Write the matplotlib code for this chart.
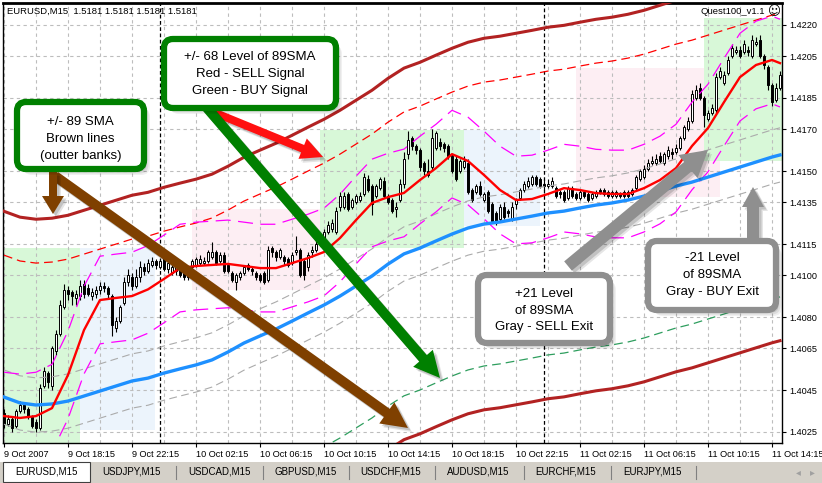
import matplotlib.pyplot as plt
from matplotlib.patches import FancyBboxPatch, FancyArrow, Rectangle

plt.rcParams['font.family'] = ['Liberation Sans', 'DejaVu Sans']

BASE = 1.4
PIP = 0.0001

# EURUSD M15 candles, pips above 1.4000, one entry per bar (9 Oct 14:15 onwards)
opens = [34, 29, 31, 28, 35, 38, 36, 32, 30, 27, 47, 53, 47, 64, 72, 85, 93, 92, 89, 90,
         96, 94, 90, 91, 93, 95, 94, 90, 75, 78, 87, 97, 99, 95, 99, 104, 102, 105, 107, 104,
         108, 103, 101, 102, 104, 101, 99, 104, 105, 106, 106, 107, 109, 111, 107, 110, 105, 101, 97, 99,
         101, 105, 103, 101, 100, 101, 98, 113, 111, 109, 109, 108, 106, 111, 112, 107, 104, 111, 112, 115,
         116, 121, 122, 121, 133, 133, 139, 133, 135, 136, 139, 146, 143, 138, 142, 145, 138, 136, 132, 136,
         144, 158, 166, 162, 160, 154, 150, 152, 161, 164, 163, 162, 157, 156, 150, 152, 154, 141, 140, 143,
         136, 140, 134, 130, 127, 133, 131, 127, 134, 137, 141, 143, 144, 147, 146, 144, 143, 143, 142, 140,
         140, 137, 142, 139, 137, 140, 139, 137, 138, 141, 141, 140, 138, 138, 139, 140, 140, 139, 142, 146,
         147, 151, 154, 154, 157, 154, 157, 159, 159, 161, 166, 170, 174, 185, 190, 185, 175, 178, 179, 195,
         192, 197, 205, 207, 208, 207, 208, 205, 211, 213, 205, 200, 191, 184, 190]
closes = [29, 31, 27, 35, 38, 36, 32, 28, 27, 46, 54, 49, 65, 72, 86, 93, 91, 90, 91, 95,
          91, 91, 92, 93, 95, 94, 91, 76, 78, 85, 97, 100, 95, 99, 104, 102, 106, 107, 105, 107,
          103, 106, 104, 104, 100, 99, 102, 107, 108, 108, 107, 111, 111, 106, 110, 102, 102, 98, 100, 101,
          104, 103, 102, 99, 98, 97, 112, 111, 109, 112, 107, 105, 110, 112, 100, 100, 110, 112, 115, 118,
          121, 124, 125, 131, 138, 138, 132, 136, 138, 138, 147, 141, 134, 143, 146, 138, 135, 131, 133, 144,
          156, 165, 162, 160, 152, 150, 148, 166, 168, 162, 161, 157, 150, 146, 155, 155, 140, 136, 143, 139,
          139, 131, 126, 125, 133, 128, 130, 133, 136, 141, 144, 145, 147, 144, 143, 143, 144, 145, 138, 139,
          136, 142, 138, 137, 140, 138, 136, 139, 140, 140, 139, 138, 140, 140, 138, 138, 138, 141, 147, 150,
          151, 154, 155, 156, 155, 158, 160, 158, 161, 166, 171, 174, 187, 189, 185, 177, 178, 180, 195, 198,
          196, 203, 209, 208, 205, 211, 207, 213, 212, 205, 201, 191, 183, 190, 196]
highs = [36, 33, 32, 36, 40, 39, 37, 33, 31, 48, 56, 54, 66, 74, 88, 96, 95, 93, 93, 98,
         98, 96, 94, 95, 97, 97, 95, 91, 80, 86, 99, 103, 101, 103, 107, 106, 108, 109, 108, 108,
         109, 107, 105, 105, 105, 102, 103, 108, 109, 110, 109, 112, 116, 112, 111, 111, 106, 102, 101, 102,
         105, 106, 104, 102, 101, 102, 114, 114, 112, 113, 110, 109, 111, 119, 113, 108, 111, 114, 117, 119,
         122, 126, 127, 133, 140, 140, 140, 137, 139, 140, 149, 148, 144, 144, 147, 147, 139, 137, 135, 146,
         159, 169, 167, 163, 161, 155, 156, 170, 169, 166, 164, 163, 158, 157, 156, 157, 156, 142, 144, 145,
         140, 141, 135, 131, 134, 135, 132, 135, 137, 142, 145, 147, 148, 148, 147, 146, 146, 147, 143, 141,
         141, 143, 143, 140, 141, 141, 140, 140, 141, 142, 142, 141, 141, 141, 140, 141, 141, 142, 148, 151,
         153, 156, 157, 158, 159, 159, 162, 161, 163, 167, 172, 176, 189, 191, 192, 186, 179, 182, 197, 200,
         198, 205, 211, 210, 210, 213, 210, 215, 214, 215, 206, 201, 192, 192, 198]
lows = [27, 28, 25, 27, 34, 34, 31, 27, 25, 26, 46, 46, 45, 62, 71, 84, 88, 86, 86, 88,
        89, 90, 88, 89, 91, 92, 89, 71, 73, 77, 86, 95, 93, 94, 97, 100, 101, 104, 103, 103,
        102, 101, 100, 100, 99, 98, 98, 103, 104, 105, 105, 106, 108, 105, 106, 101, 101, 97, 93, 98,
        100, 102, 100, 98, 97, 96, 97, 109, 107, 108, 105, 104, 105, 110, 99, 98, 102, 109, 111, 114,
        114, 120, 121, 120, 131, 132, 131, 132, 134, 135, 138, 140, 129, 137, 141, 137, 134, 130, 128, 135,
        142, 156, 160, 158, 150, 148, 147, 150, 160, 160, 159, 156, 149, 145, 149, 151, 139, 135, 139, 138,
        135, 130, 125, 124, 126, 127, 128, 126, 132, 136, 140, 142, 143, 143, 142, 141, 142, 142, 137, 137,
        135, 136, 137, 136, 136, 137, 135, 136, 137, 139, 138, 137, 137, 137, 137, 137, 137, 138, 141, 145,
        146, 150, 153, 153, 154, 153, 156, 156, 158, 160, 165, 169, 173, 184, 184, 171, 174, 177, 178, 194,
        191, 196, 204, 206, 204, 206, 205, 204, 210, 204, 199, 189, 181, 183, 189]

# moving averages read every 4th bar (plus the last bar), pips above 1.4000
ma_bars = list(range(0, 193, 4)) + [194]
fast_ma = [32.6, 31.7, 32.6, 36.4, 52.3, 73.8, 88.2, 89.2, 90.1, 93.3, 98.3, 103.5, 104.5, 105.0, 105.5,
           104.5, 103.5, 103.5, 105.9, 108.3, 111.2, 117.9, 126.5, 134.7, 137.5, 139.5, 145.7, 151.4,
           158.1, 154.8, 148.1, 140.9, 136.1, 136.6, 139.0, 141.8, 140.9, 139.4, 139.0, 139.0, 141.8,
           145.7, 151.4, 162.0, 170.6, 183.0, 195.0, 200.8, 203.2, 201.7]
sma89 = [41.7, 38.9, 37.9, 38.4, 39.8, 42.2, 44.6, 47.0, 49.4, 50.8, 53.2, 55.2, 57.1, 59.5, 63.3,
         67.6, 71.0, 74.3, 78.1, 82.0, 85.8, 90.1, 94.9, 99.7, 105.4, 110.3, 113.1, 116.5, 119.8,
         122.7, 124.6, 125.6, 127.0, 128.4, 129.9, 130.8, 132.3, 133.7, 134.7, 136.1, 138.0, 140.4,
         142.8, 144.7, 147.1, 149.5, 151.9, 154.3, 156.7, 157.7]

# Quest100 levels around the 89 SMA and the fast MA (pips)
BANK = 89
SIGNAL = 68
EXIT = 13
ENVELOPE = 21

x_tick_bars = list(range(0, 193, 16))
x_tick_labels = ['9 Oct 2007', '9 Oct 18:15', '9 Oct 22:15', '10 Oct 02:15', '10 Oct 06:15',
                 '10 Oct 10:15', '10 Oct 14:15', '10 Oct 18:15', '10 Oct 22:15', '11 Oct 02:15',
                 '11 Oct 06:15', '11 Oct 10:15', '11 Oct 14:15']
y_tick_pips = [25, 45, 65, 80, 100, 115, 135, 150, 170, 185, 205, 220]
day_breaks = [39, 135]

# shaded zones drawn on the chart (bars and pips)
zone_start = [-0.25, 19, 47, 79, 115, 143, 175]
zone_end = [19, 37.75, 79, 115, 134, 179, 195]
zone_low = [15, 25.9, 93, 113.1, 123.6, 137.5, 154.8]
zone_high = [113.1, 113.1, 131.8, 169.6, 169.6, 199.3, 223.3]
zone_color = ['#d8f8d8', '#ecf4fc', '#fdeef3', '#d8f8d8', '#ecf4fc', '#fdeef3', '#d8f8d8']

tab_names = ['EURUSD,M15', 'USDJPY,M15', 'USDCAD,M15', 'GBPUSD,M15', 'USDCHF,M15',
             'AUDUSD,M15', 'EURCHF,M15', 'EURJPY,M15']


def px(v):
    return BASE + v * PIP


W, H = 822, 483
fig = plt.figure(figsize=(W / 100, H / 100), dpi=100)
ax = fig.add_axes([3 / W, (H - 443) / H, 779 / W, 440 / H])
ax.set_xlim(-0.25, 194.5)
ax.set_ylim(px(19.7), px(230.5))

for s, e, lo, hi, c in zip(zone_start, zone_end, zone_low, zone_high, zone_color):
    ax.add_patch(Rectangle((s, px(lo)), e - s, (hi - lo) * PIP, fc=c, ec='none', zorder=0))

for b in range(0, 193, 8):
    ax.axvline(b, color='#bdbdbd', lw=0.8, ls=(0, (3, 3)), zorder=1)
for t in y_tick_pips:
    ax.axhline(px(t), color='#bdbdbd', lw=0.8, ls=(0, (3, 3)), zorder=1)
for b in day_breaks:
    ax.axvline(b, color='black', lw=0.9, ls=(0, (3, 2)), zorder=1.5)

# candles
bars = list(range(len(closes)))
ax.vlines(bars, [px(v) for v in lows], [px(v) for v in highs], color='black', lw=0.8, zorder=2)
body_lo = [px(min(o, c)) for o, c in zip(opens, closes)]
body_h = [abs(c - o) * PIP for o, c in zip(opens, closes)]
body_fc = ['white' if c >= o else 'black' for o, c in zip(opens, closes)]
ax.bar(bars, body_h, bottom=body_lo, width=0.6, color=body_fc, edgecolor='black', lw=0.7, zorder=3)

fast_p = [px(v) for v in fast_ma]
sma_p = [px(v) for v in sma89]


def shifted(vals, d):
    return [px(v + d) for v in vals]


ax.plot(ma_bars, shifted(sma89, EXIT), color='#ababab', lw=0.8, ls=(0, (7, 4)), zorder=4)
ax.plot(ma_bars, shifted(sma89, -EXIT), color='#ababab', lw=0.8, ls=(0, (7, 4)), zorder=4)
ax.plot(ma_bars, shifted(sma89, SIGNAL), color='#ff0000', lw=0.9, ls=(0, (7, 4)), zorder=4)
ax.plot(ma_bars, shifted(sma89, -SIGNAL), color='#2e9e5e', lw=0.9, ls=(0, (7, 4)), zorder=4)
ax.plot(ma_bars, shifted(fast_ma, ENVELOPE), color='#ff00ff', lw=0.9, ls=(0, (12, 6)), zorder=4)
ax.plot(ma_bars, shifted(fast_ma, -ENVELOPE), color='#ff00ff', lw=0.9, ls=(0, (12, 6)), zorder=4)
ax.plot(ma_bars, shifted(sma89, BANK), color='#b22222', lw=2.2, zorder=5)
ax.plot(ma_bars, shifted(sma89, -BANK), color='#b22222', lw=2.2, zorder=5)
ax.plot(ma_bars, sma_p, color='#1e90ff', lw=2.4, zorder=5)
ax.plot(ma_bars, fast_p, color='#ff0000', lw=1.7, zorder=6)

ax.yaxis.tick_right()
ax.set_yticks([px(t) for t in y_tick_pips])
ax.set_yticklabels(['%.4f' % px(t) for t in y_tick_pips])
ax.set_xticks(x_tick_bars)
ax.set_xticklabels(x_tick_labels)
for lab in ax.get_xticklabels():
    lab.set_ha('left')
ax.tick_params(axis='both', direction='out', length=3, width=0.8, labelsize=6.6, pad=2, colors='black')
for sp in ax.spines.values():
    sp.set_linewidth(1.0)
ax.spines['top'].set_linewidth(2)

# overlay in pixel units for the annotations and the tab bar
ov = fig.add_axes([0, 0, 1, 1])
ov.set_xlim(0, W)
ov.set_ylim(H, 0)
ov.axis('off')
ov.patch.set_alpha(0)

ov.text(7, 11, 'EURUSD,M15  1.5181 1.5181 1.5181 1.5181', fontsize=6.8, va='center')
ov.text(700, 12, 'Quest100_v1.1', fontsize=6.8, va='center')
ov.text(768, 12, '\u263a', fontsize=9, va='center', family=['DejaVu Sans'])


def arrow(x0, y0, x1, y1, color, w, hw, hl):
    for dx, c, a in [(4, 'black', 0.10), (2.5, 'black', 0.15), (0, color, 1)]:
        ov.add_patch(FancyArrow(x0 + dx, y0 + dx, x1 - x0, y1 - y0, width=w, head_width=hw,
                                head_length=hl, length_includes_head=True, fc=c, ec='none',
                                alpha=a, zorder=2))


arrow(213, 112, 323, 157, '#ff1010', 8, 22, 22)
arrow(207, 108, 440, 378, '#008000', 10, 26, 26)
arrow(55, 176, 408, 428, '#7f4000', 10, 26, 26)
arrow(53, 172, 53, 214, '#7f4000', 8, 22, 18)
arrow(568, 266, 708, 150, '#8f8f8f', 12, 30, 26)
arrow(753, 240, 753, 187, '#8f8f8f', 12, 22, 20)


def callout(x0, y0, x1, y1, edge, lines, ys):
    for k, a in [(6, 0.06), (4.5, 0.08), (3, 0.10)]:
        ov.add_patch(FancyBboxPatch((x0 + k, y0 + k), x1 - x0, y1 - y0,
                                    boxstyle='round,pad=0,rounding_size=9', fc='black', ec='none',
                                    alpha=a, zorder=3))
    ov.add_patch(FancyBboxPatch((x0, y0), x1 - x0, y1 - y0, boxstyle='round,pad=0,rounding_size=9',
                                fc='white', ec=edge, lw=4.5, zorder=4))
    for t, y in zip(lines, ys):
        ov.text((x0 + x1) / 2, y, t, ha='center', va='center', fontsize=9.5, zorder=5)


callout(164, 39, 336, 108, '#008000', ['+/- 68 Level of 89SMA', 'Red - SELL Signal', 'Green - BUY Signal'],
        [57, 74, 91])
callout(17, 102, 144, 169, '#008000', ['+/- 89 SMA', 'Brown lines', '(outter banks)'], [122, 139, 156])
callout(478, 275, 610, 343, '#8f8f8f', ['+21 Level', 'of 89SMA', 'Gray - SELL Exit'], [294, 311, 327])
callout(648, 241, 776, 310, '#8f8f8f', ['-21 Level', 'of 89SMA', 'Gray - BUY Exit'], [258, 275, 292])

# tab bar
ov.add_patch(Rectangle((0, 462), W, 21, fc='#d4d0c8', ec='none', zorder=1))
ov.add_patch(Rectangle((3, 462), 87, 20, fc='white', ec='#404040', lw=0.8, zorder=1.5))
tab_x = [46, 131, 219, 306, 391, 478, 566, 652]
for name, x in zip(tab_names, tab_x):
    ov.text(x, 472, name, ha='center', va='center', fontsize=7, zorder=2)
for x in [176, 263, 349, 435, 524, 611, 696]:
    ov.plot([x, x], [466, 479], color='#808080', lw=0.8, zorder=2)
ov.text(798, 472, '\u25c2', ha='center', va='center', fontsize=7, color='#a0a0a0', family=['DejaVu Sans'])
ov.text(812, 472, '\u25b8', ha='center', va='center', fontsize=7, color='#a0a0a0', family=['DejaVu Sans'])

fig.savefig('out.png', dpi=100)
